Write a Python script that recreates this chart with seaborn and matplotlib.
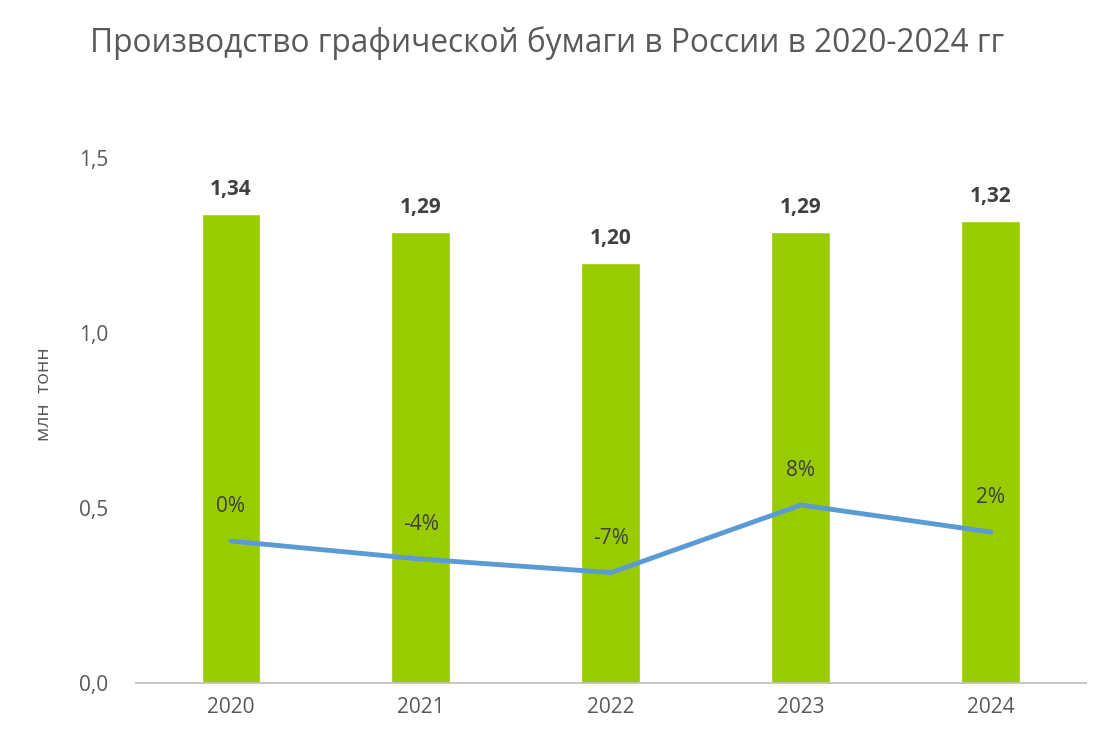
import matplotlib.pyplot as plt
import seaborn as sns
import pandas as pd

years = ['2020', '2021', '2022', '2023', '2024']
production = [1.34, 1.29, 1.20, 1.29, 1.32]
growth_pct = [0, -4, -7, 8, 2]

BAR_COLOR = '#99CC00'
LINE_COLOR = '#5B9BD5'
TEXT_GRAY = '#595959'

sns.set_theme(style='white')
plt.rcParams['font.family'] = ['Open Sans', 'DejaVu Sans']

df = pd.DataFrame({'year': years, 'prod': production, 'pct': growth_pct})

fig = plt.figure(figsize=(11, 7.44), dpi=100)
ax = fig.add_axes([0.1236, 0.082, 0.8636, 0.7056])

sns.barplot(data=df, x='year', y='prod', color=BAR_COLOR, width=0.31,
            saturation=1, ax=ax)
ax.set_xlim(-0.5, 4.5)
ax.set_ylim(0, 1.5)
ax.set_yticks([0, 0.5, 1.0, 1.5])
ax.set_yticklabels(['0,0', '0,5', '1,0', '1,5'])
ax.tick_params(axis='both', colors=TEXT_GRAY, labelsize=15, length=0)
ax.tick_params(axis='x', pad=10)
ax.tick_params(axis='y', pad=20)
ax.set_xlabel('')
ax.set_ylabel('млн  тонн', color=TEXT_GRAY, fontsize=14)
ax.yaxis.set_label_coords(-0.087, 0.55)
for s in ['top', 'right', 'left']:
    ax.spines[s].set_visible(False)
ax.spines['bottom'].set_color('#BFBFBF')

for i, v in enumerate(production):
    ax.annotate(f'{v:.2f}'.replace('.', ','), (i, v), xytext=(0, 10),
                textcoords='offset points', ha='center', va='bottom',
                fontsize=15, fontweight='bold', color='#404040')

ax2 = ax.twinx()
sns.lineplot(data=df, x='year', y='pct', color=LINE_COLOR, linewidth=3.5,
             ax=ax2, sort=False)
ax2.set_ylim(-31.5, 85)
ax2.set_xlim(-0.5, 4.5)
ax2.axis('off')
for i, p in enumerate(growth_pct):
    ax2.annotate(f'{p}%', (i, p), xytext=(0, 17), textcoords='offset points',
                 ha='center', va='bottom', fontsize=15, color='#404040')

fig.suptitle('Производство графической бумаги в России в 2020-2024 гг',
             x=0.497, y=0.965, fontsize=22.8, color=TEXT_GRAY)

plt.savefig('out.png', dpi=100)
